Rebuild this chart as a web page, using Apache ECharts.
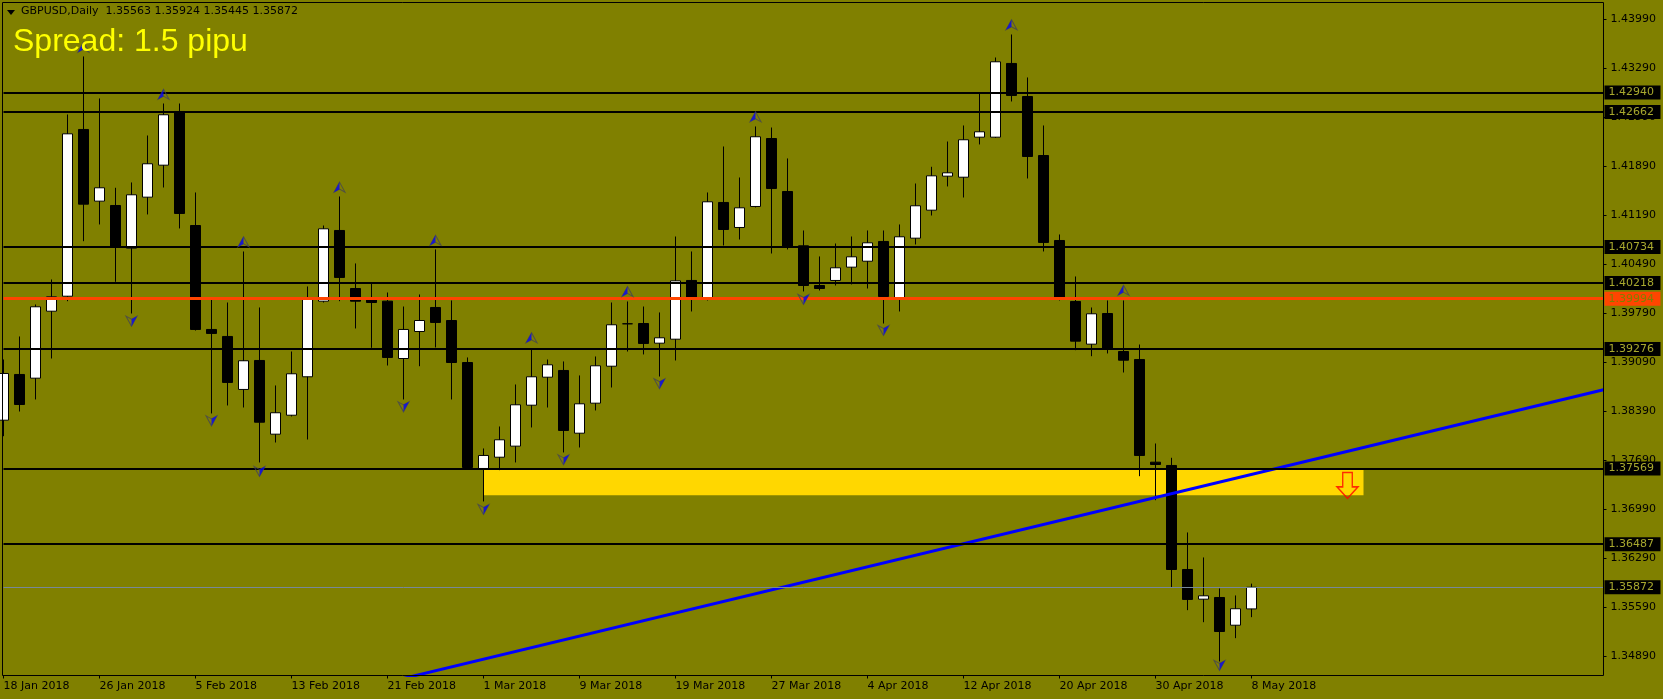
<!DOCTYPE html>
<html>
<head>
<meta charset="utf-8">
<title>GBPUSD Daily</title>
<style>html,body{margin:0;padding:0;background:#808000}#c{width:1663px;height:699px}</style>
<script src="https://cdn.jsdelivr.net/npm/echarts@6/dist/echarts.min.js"></script>
</head>
<body>
<div id="c"></div>
<script>
const dates = ["18 Jan 2018","19 Jan 2018","22 Jan 2018","23 Jan 2018","24 Jan 2018","25 Jan 2018","26 Jan 2018","29 Jan 2018","30 Jan 2018","31 Jan 2018",
"1 Feb 2018","2 Feb 2018","5 Feb 2018","6 Feb 2018","7 Feb 2018","8 Feb 2018","9 Feb 2018","12 Feb 2018","13 Feb 2018","14 Feb 2018","15 Feb 2018","16 Feb 2018","19 Feb 2018","20 Feb 2018","21 Feb 2018","22 Feb 2018","23 Feb 2018","26 Feb 2018","27 Feb 2018","28 Feb 2018",
"1 Mar 2018","2 Mar 2018","5 Mar 2018","6 Mar 2018","7 Mar 2018","8 Mar 2018","9 Mar 2018","12 Mar 2018","13 Mar 2018","14 Mar 2018","15 Mar 2018","16 Mar 2018","19 Mar 2018","20 Mar 2018","21 Mar 2018","22 Mar 2018","23 Mar 2018","26 Mar 2018","27 Mar 2018","28 Mar 2018","29 Mar 2018","30 Mar 2018",
"2 Apr 2018","3 Apr 2018","4 Apr 2018","5 Apr 2018","6 Apr 2018","9 Apr 2018","10 Apr 2018","11 Apr 2018","12 Apr 2018","13 Apr 2018","16 Apr 2018","17 Apr 2018","18 Apr 2018","19 Apr 2018","20 Apr 2018","23 Apr 2018","24 Apr 2018","25 Apr 2018","26 Apr 2018","27 Apr 2018","30 Apr 2018",
"1 May 2018","2 May 2018","3 May 2018","4 May 2018","7 May 2018","8 May 2018"];
const opens = [1.38259,1.38912,1.38859,1.39816,1.40030,1.42412,1.41388,1.41326,1.40716,1.41445,
1.41902,1.42669,1.41040,1.39555,1.39455,1.38698,1.39112,1.38059,1.38330,1.38879,
1.39959,1.40969,1.40140,1.39983,1.39959,1.39140,1.39526,1.39869,1.39683,1.39083,
1.37569,1.37730,1.37888,1.38473,1.38873,1.38969,1.38073,1.38502,1.39030,1.39636,
1.39640,1.39359,1.39416,1.40255,1.39983,1.41369,1.41012,1.41312,1.42283,1.41526,
1.40750,1.40183,1.40255,1.40445,1.40530,1.40812,1.39983,1.40859,1.41259,1.41745,
1.41730,1.42302,1.42302,1.43355,1.42883,1.42040,1.40826,1.39955,1.39345,1.39783,
1.39240,1.39126,1.37659,1.37612,1.36126,1.35702,1.35726,1.35330,1.35563];
const highs = [1.39126,1.39455,1.39912,1.40269,1.42626,1.43455,1.42855,1.41579,1.41655,1.42326,
1.42783,1.42783,1.41512,1.40012,1.39940,1.40669,1.39869,1.38755,1.39240,1.40169,
1.41040,1.41455,1.40498,1.40212,1.40083,1.39883,1.40055,1.40698,1.39969,1.39155,
1.37855,1.38169,1.38769,1.39283,1.39126,1.39098,1.38898,1.39169,1.39940,1.39955,
1.39883,1.39798,1.40883,1.40669,1.41512,1.42169,1.41726,1.42455,1.42440,1.41998,
1.40969,1.40598,1.40783,1.40883,1.40969,1.40969,1.41055,1.41640,1.41879,1.42240,
1.42469,1.42945,1.43440,1.43769,1.43155,1.42469,1.40912,1.40312,1.39869,1.39969,
1.39969,1.39340,1.37926,1.37722,1.36655,1.36298,1.35855,1.35755,1.35924];
const lows = [1.38030,1.38383,1.38555,1.39140,1.39959,1.40816,1.41055,1.40236,1.39783,1.41198,
1.41583,1.40998,1.39540,1.38355,1.38469,1.38440,1.37655,1.37940,1.38312,1.37983,
1.39940,1.39959,1.39569,1.39293,1.39040,1.38555,1.39030,1.39298,1.38555,1.37583,
1.37098,1.37545,1.37655,1.38155,1.38440,1.37798,1.37869,1.38398,1.38726,1.39240,
1.39198,1.38883,1.39112,1.39812,1.39969,1.40755,1.40840,1.41298,1.40640,1.40698,
1.40098,1.40112,1.40183,1.40198,1.40140,1.39640,1.39812,1.40769,1.41183,1.41598,
1.41440,1.42198,1.42290,1.42812,1.41712,1.40669,1.39969,1.39259,1.39173,1.39212,
1.38940,1.37459,1.37116,1.35869,1.35545,1.35373,1.34812,1.35145,1.35445];
const closes = [1.38926,1.38483,1.39879,1.40022,1.42350,1.41345,1.41579,1.40745,1.41479,1.41922,
1.42622,1.41212,1.39555,1.39498,1.38798,1.39108,1.38230,1.38365,1.38922,1.39998,
1.40993,1.40298,1.39959,1.39940,1.39155,1.39555,1.39683,1.39655,1.39083,1.37583,
1.37755,1.37979,1.38479,1.38879,1.39050,1.38112,1.38493,1.39036,1.39622,1.39636,
1.39355,1.39436,1.40250,1.39983,1.41379,1.40983,1.41293,1.42308,1.41569,1.40736,
1.40183,1.40140,1.40436,1.40593,1.40793,1.40026,1.40879,1.41322,1.41750,1.41793,
1.42265,1.42379,1.43379,1.42898,1.42026,1.40798,1.39983,1.39388,1.39779,1.39288,
1.39116,1.37755,1.37626,1.36126,1.35698,1.35750,1.35240,1.35565,1.35872];
const priceTicks = [1.43990,1.43290,1.42590,1.41890,1.41190,1.40490,1.39790,1.39090,1.38390,1.37690,1.36990,1.36290,1.35590,1.34890];
const levels = [1.42940,1.42662,1.40734,1.40218,1.39276,1.37569,1.36487];
const bidLevel = 1.35872;
const redLevel = 1.39994;
const fractalsUp = [[5,1.43588],[10,1.42916],[15,1.40808],[21,1.41588],[27,1.40830],[33,1.39436],[39,1.40098],[47,1.42593],[63,1.43908],[70,1.40116]];
const fractalsDown = [[8,1.39673],[13,1.38250],[16,1.37526],[25,1.38450],[30,1.36983],[35,1.37693],[41,1.38779],[50,1.39983],[55,1.39540],[76,1.34755]];
const zoneBars = [30,85];
const zonePrices = [1.37569,1.37188];
const sellArrow = [[84,1.37326]];
const trendBars = [25,100];
const trendPrices = [1.34570,1.38694];
const headerText = "GBPUSD,Daily  1.35563 1.35924 1.35445 1.35872";
const spreadText = "Spread: 1.5 pipu";

const UI = "'DejaVu Sans'";
const cats = dates.slice();
while (cats.length < 101) cats.push("");
const isTick = (i) => i <= 78 && i % 6 === 0;

const levelLine = (v, color, width, bg, fg) => ({
  yAxis: v,
  lineStyle: {color, width, type: "solid"},
  label: {show: true, position: "end", distance: 1, formatter: v.toFixed(5), color: fg,
           backgroundColor: bg, padding: [1, 4, 1, 4], fontFamily: UI, fontSize: 11, width: 48, lineHeight: 12, align: "left"}
});
const upPath = "path://M5.5,0 L11,10 L5.5,7 L0,10 Z";
const upHalf = "path://M5.5,0 L5.5,7 L0,10 Z";
const dnPath = "path://M0,0 L5.5,3 L11,0 L5.5,10 Z";
const dnHalf = "path://M5.5,3 L11,0 L5.5,10 Z";
const arrowSeries = (data, symbol, size, offset, style) => ({
  type: "scatter", data, symbol, symbolSize: size, symbolOffset: offset, z: 5, silent: true, itemStyle: style
});

const chart = echarts.init(document.getElementById("c"), null, {renderer: "canvas"});
chart.setOption({
  animation: false,
  backgroundColor: "#808000",
  grid: {left: 3.5, top: 2.5, width: 1600, height: 673, show: false},
  xAxis: {
    type: "category", data: cats, boundaryGap: false,
    axisLine: {show: false},
    axisTick: {show: true, length: 3, interval: (i) => isTick(i), lineStyle: {color: "#000"}, alignWithLabel: true},
    axisLabel: {show: true, interval: (i) => isTick(i), align: "left", margin: 5, color: "#000", fontFamily: UI, fontSize: 11, hideOverlap: false},
    splitLine: {show: false}
  },
  yAxis: {
    type: "value", position: "right", scale: true, min: 1.346116, max: 1.442259,
    axisLine: {show: false},
    axisTick: {show: true, length: 3, customValues: priceTicks, lineStyle: {color: "#000"}},
    axisLabel: {show: true, customValues: priceTicks, margin: 7, color: "#000", fontFamily: UI, fontSize: 11,
                formatter: (v) => v.toFixed(5), showMinLabel: true, showMaxLabel: true},
    splitLine: {show: false}
  },
  series: [
    {type: "line", data: [], z: 1, silent: true, markArea: {silent: true, itemStyle: {color: "#FFD700", opacity: 1},
      data: [[{xAxis: zoneBars[0], yAxis: zonePrices[0]}, {xAxis: zoneBars[1], yAxis: zonePrices[1]}]]}},
    {type: "candlestick", z: 2, silent: true, barWidth: 10,
      data: dates.map((d, i) => [opens[i], closes[i], lows[i], highs[i]]),
      itemStyle: {color: "#ffffff", color0: "#000000", borderColor: "#000000", borderColor0: "#000000", borderWidth: 1}},
    {type: "line", data: [], z: 3, silent: true, markLine: {silent: true, symbol: "none", animation: false, precision: 5,
      data: levels.map(v => levelLine(v, "#000000", 2, "#000000", "#a8a82e"))
        .concat([levelLine(bidLevel, "#778899", 1, "#000000", "#a8a82e"), levelLine(redLevel, "#FF4500", 3, "#FF4500", "#808000")])}},
    {type: "line", z: 4, silent: true, symbol: "none", data: trendBars.map((b, i) => [b, trendPrices[i]]),
      lineStyle: {color: "#0000FF", width: 3}},
    arrowSeries(fractalsUp, upPath, [11, 10], [0, 0], {color: "rgba(0,0,0,0)", borderColor: "#444455", borderWidth: 1}),
    arrowSeries(fractalsUp, upHalf, [5.5, 10], [-2.75, 0], {color: "#0000FF"}),
    arrowSeries(fractalsDown, dnPath, [11, 10], [0, 0], {color: "rgba(0,0,0,0)", borderColor: "#444455", borderWidth: 1}),
    arrowSeries(fractalsDown, dnHalf, [5.5, 10], [2.75, 0], {color: "#0000FF"}),
    {type: "scatter", z: 5, silent: true, data: sellArrow, symbol: "path://M6,0 L16,0 L16,15 L22,15 L11,27 L0,15 L6,15 Z",
      symbolSize: [21, 26], itemStyle: {color: "rgba(0,0,0,0)", borderColor: "#FF0000", borderWidth: 1.5}}
  ],
  graphic: [
    {type: "rect", silent: true, z: 100, shape: {x: 2.5, y: 2.5, width: 1601, height: 673}, style: {fill: "none", stroke: "#000", lineWidth: 1}},
    {type: "polygon", silent: true, z: 100, shape: {points: [[7, 10], [15, 10], [11, 15]]}, style: {fill: "#000"}},
    {type: "text", silent: true, z: 100, x: 21, y: 6, style: {text: headerText, fill: "#000", font: "11px 'DejaVu Sans'"}},
    {type: "text", silent: true, z: 100, x: 13, y: 26, style: {text: spreadText, fill: "#FFFF00", font: "32px 'Liberation Sans'"}}
  ]
});
</script>
</body>
</html>
